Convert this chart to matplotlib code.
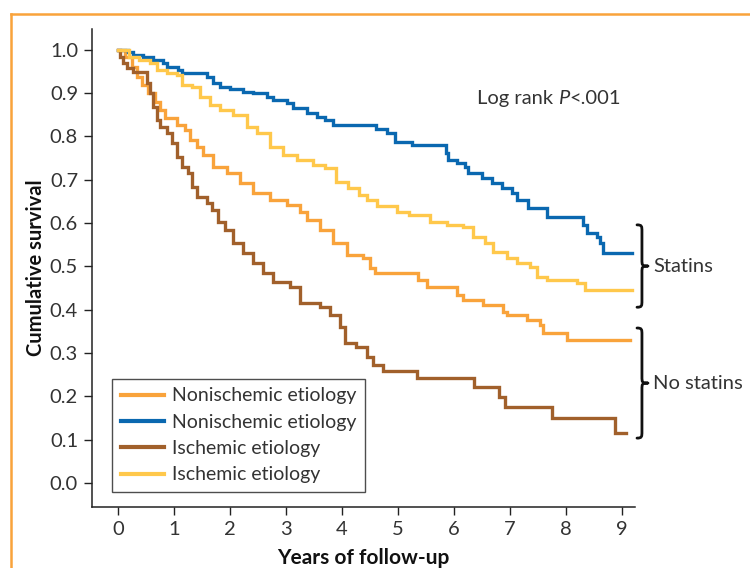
import matplotlib
matplotlib.use("Agg")
import matplotlib.pyplot as plt
from matplotlib.path import Path
from matplotlib.patches import PathPatch
from matplotlib.lines import Line2D

# ---------------- data ----------------
orange_t = [0, 0.12, 0.25, 0.34, 0.43, 0.54, 0.66, 0.75, 0.84, 1.05, 1.2, 1.29, 1.41, 1.52, 1.7,
            1.95, 2.18, 2.41, 2.71, 3.02, 3.25, 3.37, 3.6, 3.84, 4.09, 4.38, 4.5, 4.59, 5.36, 5.52,
            6.05, 6.16, 6.52, 6.88, 6.95, 7.3, 7.54, 7.59, 8.02, 9.14]
orange_s = [1.0, 0.984, 0.961, 0.938, 0.919, 0.9, 0.88, 0.861, 0.843, 0.827, 0.815, 0.792, 0.776,
            0.757, 0.73, 0.716, 0.693, 0.67, 0.654, 0.642, 0.626, 0.607, 0.584, 0.554, 0.527, 0.52,
            0.497, 0.485, 0.469, 0.453, 0.434, 0.423, 0.411, 0.395, 0.388, 0.376, 0.365, 0.346,
            0.33, 0.33]

blue_t = [0, 0.18, 0.27, 0.45, 0.63, 0.8, 0.875, 1.07, 1.14, 1.59, 1.7, 1.82, 2.0, 2.23, 2.41,
          2.66, 2.77, 3.02, 3.13, 3.38, 3.55, 3.7, 3.84, 4.6, 4.8, 4.95, 5.25, 5.85, 5.9, 6.05,
          6.2, 6.25, 6.5, 6.68, 6.86, 7.04, 7.12, 7.32, 7.66, 8.3, 8.37, 8.55, 8.6, 8.66, 9.18]
blue_s = [1.0, 0.995, 0.988, 0.984, 0.977, 0.97, 0.961, 0.954, 0.947, 0.938, 0.924, 0.915, 0.91,
          0.903, 0.9, 0.891, 0.885, 0.877, 0.866, 0.854, 0.845, 0.838, 0.827, 0.817, 0.808, 0.788,
          0.781, 0.762, 0.746, 0.739, 0.73, 0.716, 0.704, 0.693, 0.681, 0.67, 0.654, 0.635, 0.614,
          0.596, 0.577, 0.568, 0.554, 0.531, 0.531]

brown_t = [0, 0.04, 0.09, 0.16, 0.27, 0.52, 0.57, 0.63, 0.7, 0.75, 0.88, 0.96, 1.05, 1.14, 1.25,
           1.32, 1.41, 1.59, 1.68, 1.79, 1.91, 2.05, 2.23, 2.41, 2.59, 2.77, 3.07, 3.25, 3.6, 3.79,
           3.96, 4.05, 4.25, 4.45, 4.55, 4.73, 5.34, 6.36, 6.8, 6.91, 7.75, 8.88, 9.07]
brown_s = [1.0, 0.984, 0.97, 0.958, 0.949, 0.924, 0.9, 0.868, 0.838, 0.822, 0.808, 0.785, 0.753,
           0.73, 0.716, 0.684, 0.66, 0.647, 0.63, 0.603, 0.584, 0.554, 0.531, 0.508, 0.485, 0.464,
           0.453, 0.416, 0.406, 0.388, 0.36, 0.323, 0.314, 0.291, 0.273, 0.259, 0.242, 0.222,
           0.199, 0.176, 0.15, 0.115, 0.115]

yellow_t = [0, 0.2, 0.38, 0.57, 0.7, 0.875, 1.05, 1.14, 1.32, 1.46, 1.64, 1.82, 2.05, 2.3, 2.48,
            2.71, 2.95, 3.2, 3.48, 3.7, 3.9, 4.1, 4.3, 4.45, 4.62, 4.98, 5.2, 5.57, 5.87, 6.16,
            6.34, 6.55, 6.7, 6.95, 7.12, 7.36, 7.48, 7.66, 8.2, 8.34, 9.18]
yellow_s = [1.0, 0.984, 0.977, 0.97, 0.954, 0.947, 0.942, 0.919, 0.915, 0.891, 0.873, 0.861, 0.85,
            0.822, 0.808, 0.776, 0.757, 0.746, 0.734, 0.727, 0.695, 0.681, 0.666, 0.654, 0.64,
            0.626, 0.619, 0.603, 0.596, 0.591, 0.568, 0.554, 0.533, 0.52, 0.508, 0.499, 0.476,
            0.469, 0.462, 0.446, 0.446]

series = [
    ("Nonischemic etiology", orange_t, orange_s, "#F9A33B"),
    ("Nonischemic etiology", blue_t, blue_s, "#0A68B0"),
    ("Ischemic etiology", brown_t, brown_s, "#A1602B"),
    ("Ischemic etiology", yellow_t, yellow_s, "#FFC84B"),
]
x_ticks = [0, 1, 2, 3, 4, 5, 6, 7, 8, 9]
y_ticks = [0.0, 0.1, 0.2, 0.3, 0.4, 0.5, 0.6, 0.7, 0.8, 0.9, 1.0]
group_labels = ["Statins", "No statins"]
group_spans = [(0.406, 0.596), (0.104, 0.358)]

# ---------------- figure ----------------
FONT = "Lato"
plt.rcParams["font.family"] = [FONT, "DejaVu Sans"]
FS = 14.5
W, H = 750, 568
fig = plt.figure(figsize=(W / 100, H / 100), dpi=100)
ax = fig.add_axes([92 / W, 1 - 507 / H, (635 - 92) / W, (507 - 29) / H])

for label, t, s, c in series:
    ax.step(t, s, where="post", color=c, lw=2.4, label=label, solid_joinstyle="miter")

ax.set_xlim(-0.464, 9.23)
ax.set_ylim(-0.055, 1.048)
ax.set_xticks(x_ticks)
ax.set_xticklabels([str(v) for v in x_ticks])
ax.set_yticks(y_ticks)
ax.set_yticklabels([f"{v:.1f}" for v in y_ticks])
for sp in ["top", "right"]:
    ax.spines[sp].set_visible(False)
for sp in ["left", "bottom"]:
    ax.spines[sp].set_linewidth(1.1)
    ax.spines[sp].set_color("#222222")
ax.tick_params(direction="out", length=6, width=1.0, color="#222222",
               labelsize=FS, labelcolor="#333333", pad=4)

ax.set_xlabel("Years of follow-up", fontsize=15, fontweight="bold", color="#111111", labelpad=7)
ax.set_ylabel("Cumulative survival", fontsize=14.5, fontweight="bold", color="#111111",
              labelpad=3)

# "Log rank P<.001" with italic P, built piecewise
fig.canvas.draw()
inv = ax.transData.inverted()
ylr = 0.888
tx = ax.text((477 - 118) / 56, ylr, "Log rank ", fontsize=FS, color="#333333",
             ha="left", va="center")
fig.canvas.draw()
xp = inv.transform((tx.get_window_extent().x1, 0))[0]
tp = ax.text(xp, ylr, "P", fontsize=FS, color="#333333", ha="left", va="center",
             style="italic")
fig.canvas.draw()
xp2 = inv.transform((tp.get_window_extent().x1, 0))[0]
ax.text(xp2, ylr, "<.001", fontsize=FS, color="#333333", ha="left", va="center")

leg = ax.legend(loc="lower left", bbox_to_anchor=(0.037, 0.031), borderaxespad=0,
                fontsize=14, frameon=True, fancybox=False, handlelength=2.2,
                handletextpad=0.45, labelspacing=0.48, borderpad=0.45)
leg.get_frame().set_edgecolor("#222222")
leg.get_frame().set_linewidth(1.0)
for txt in leg.get_texts():
    txt.set_color("#333333")
for ln in leg.get_lines():
    ln.set_linewidth(3)


# curly braces drawn in pixel space
def brace(y0, y1, xpix, width):
    p0 = ax.transData.transform((0, y0))[1]
    p1 = ax.transData.transform((0, y1))[1]
    top, bot = max(p0, p1), min(p0, p1)
    mid = (top + bot) / 2
    x0 = xpix
    xm = x0 + width * 0.45
    xt = x0 + width
    r = width * 0.6
    verts = [
        (x0, top), (xm, top), (xm, top - r * 0.2), (xm, top - r),
        (xm, mid + r), (xm, mid + r * 0.1), (xm, mid), (xt, mid),
        (xm, mid), (xm, mid - r * 0.1), (xm, mid - r),
        (xm, bot + r), (xm, bot + r * 0.2), (xm, bot), (x0, bot),
    ]
    codes = [Path.MOVETO, Path.CURVE4, Path.CURVE4, Path.CURVE4,
             Path.LINETO, Path.CURVE4, Path.CURVE4, Path.CURVE4,
             Path.CURVE4, Path.CURVE4, Path.CURVE4,
             Path.LINETO, Path.CURVE4, Path.CURVE4, Path.CURVE4]
    verts = [(vx / W, vy / H) for vx, vy in verts]
    patch = PathPatch(Path(verts, codes), transform=fig.transFigure, fill=False,
                      lw=2.0, edgecolor="#111111", capstyle="round", joinstyle="round")
    fig.add_artist(patch)
    return mid


for lab, (ya, yb) in zip(group_labels, group_spans):
    mid = brace(ya, yb, 637, 11)
    fig.text(653 / W, mid / H, lab, fontsize=FS, color="#333333", ha="left", va="center")

# orange frame (top and left edges)
frame_c = "#F9A33B"
fig.add_artist(Line2D([11 / W, 1.01], [1 - 14 / H, 1 - 14 / H], transform=fig.transFigure,
                      color=frame_c, lw=1.8))
fig.add_artist(Line2D([11 / W, 11 / W], [1 - 14 / H, -0.01], transform=fig.transFigure,
                      color=frame_c, lw=1.8))

fig.savefig("out.png", dpi=100)
